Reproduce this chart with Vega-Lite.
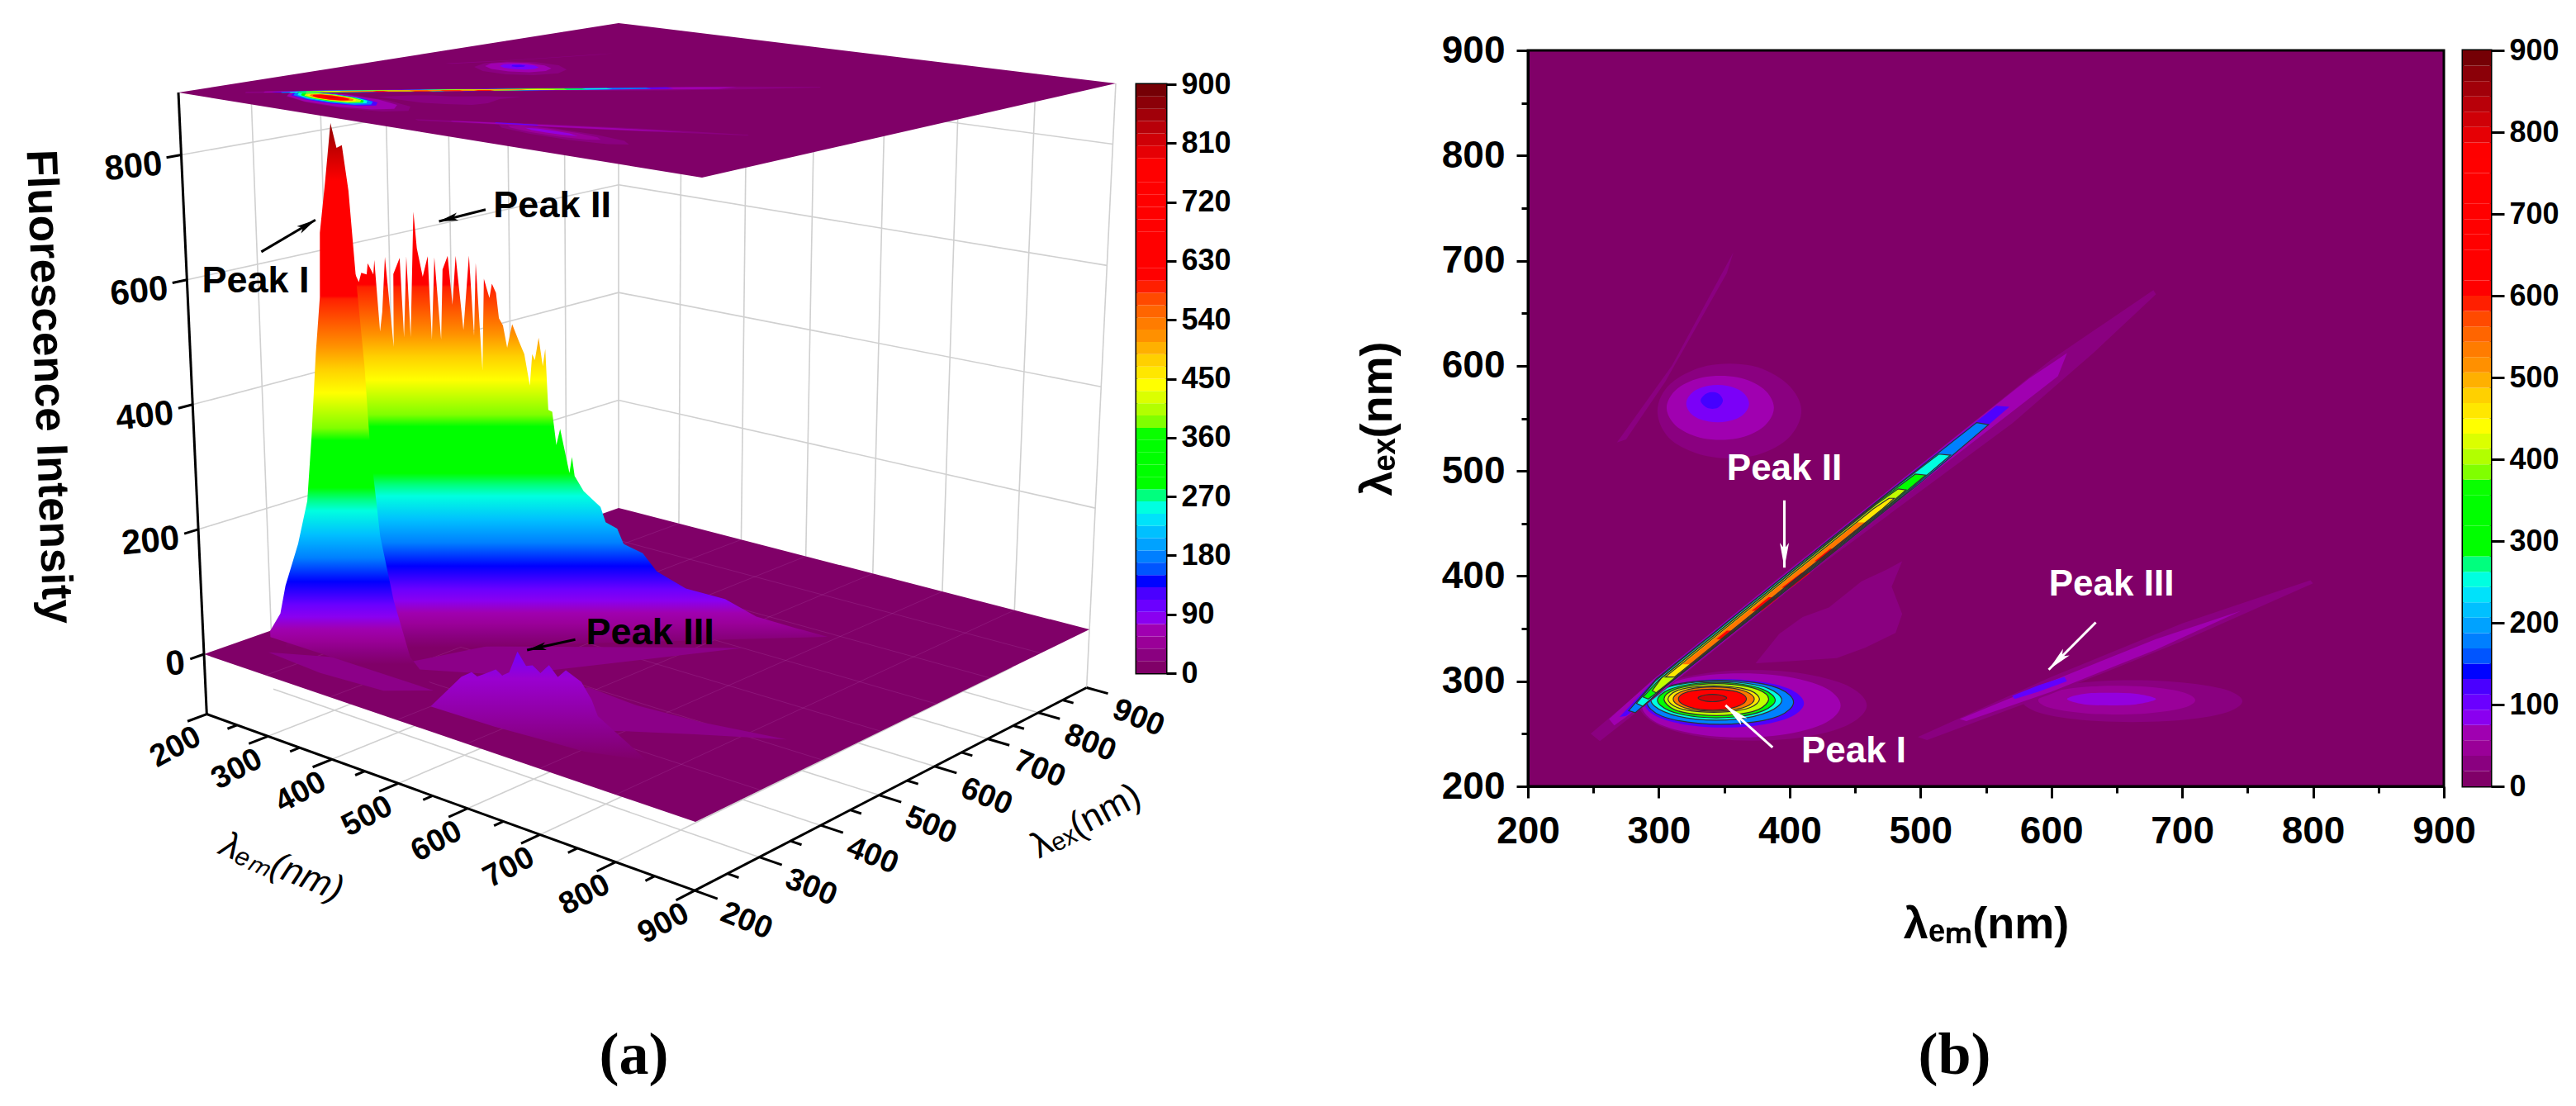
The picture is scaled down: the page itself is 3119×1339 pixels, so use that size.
{"$schema":"https://vega.github.io/schema/vega-lite/v6.json","padding":0,"spacing":0,"bounds":"flush","background":"white","config":{"view":{"stroke":null},"font":"Liberation Sans"},
"datasets":{"bars":[{"lo":0,"hi":18.75},{"lo":18.75,"hi":37.5},{"lo":37.5,"hi":56.25},{"lo":56.25,"hi":75},{"lo":75,"hi":93.75},{"lo":93.75,"hi":112.5},{"lo":112.5,"hi":131.25},{"lo":131.25,"hi":150},{"lo":150,"hi":168.75},{"lo":168.75,"hi":187.5},{"lo":187.5,"hi":206.25},{"lo":206.25,"hi":225},{"lo":225,"hi":243.75},{"lo":243.75,"hi":262.5},{"lo":262.5,"hi":281.25},{"lo":281.25,"hi":300},{"lo":300,"hi":318.75},{"lo":318.75,"hi":337.5},{"lo":337.5,"hi":356.25},{"lo":356.25,"hi":375},{"lo":375,"hi":393.75},{"lo":393.75,"hi":412.5},{"lo":412.5,"hi":431.25},{"lo":431.25,"hi":450},{"lo":450,"hi":468.75},{"lo":468.75,"hi":487.5},{"lo":487.5,"hi":506.25},{"lo":506.25,"hi":525},{"lo":525,"hi":543.75},{"lo":543.75,"hi":562.5},{"lo":562.5,"hi":581.25},{"lo":581.25,"hi":600},{"lo":600,"hi":618.75},{"lo":618.75,"hi":637.5},{"lo":637.5,"hi":656.25},{"lo":656.25,"hi":675},{"lo":675,"hi":693.75},{"lo":693.75,"hi":712.5},{"lo":712.5,"hi":731.25},{"lo":731.25,"hi":750},{"lo":750,"hi":768.75},{"lo":768.75,"hi":787.5},{"lo":787.5,"hi":806.25},{"lo":806.25,"hi":825},{"lo":825,"hi":843.75},{"lo":843.75,"hi":862.5},{"lo":862.5,"hi":881.25},{"lo":881.25,"hi":900}],
"all":[
{"k":"c","p":1,"v":19,"em":409,"ex":557},{"k":"c","p":1,"v":19,"em":398,"ex":583},{"k":"c","p":1,"v":19,"em":371,"ex":600},{"k":"c","p":1,"v":19,"em":337,"ex":600},{"k":"c","p":1,"v":19,"em":309,"ex":583},{"k":"c","p":1,"v":19,"em":299,"ex":557},{"k":"c","p":1,"v":19,"em":309,"ex":530},{"k":"c","p":1,"v":19,"em":337,"ex":514},{"k":"c","p":1,"v":19,"em":371,"ex":514},{"k":"c","p":1,"v":19,"em":398,"ex":530},
{"k":"c","p":2,"v":19,"em":268,"ex":527},{"k":"c","p":2,"v":19,"em":310,"ex":600},{"k":"c","p":2,"v":19,"em":357,"ex":708},{"k":"c","p":2,"v":19,"em":352,"ex":688},{"k":"c","p":2,"v":19,"em":305,"ex":585},{"k":"c","p":2,"v":19,"em":275,"ex":530},
{"k":"c","p":3,"v":19,"em":459,"ex":277},{"k":"c","p":3,"v":19,"em":442,"ex":297},{"k":"c","p":3,"v":19,"em":399,"ex":309},{"k":"c","p":3,"v":19,"em":345,"ex":309},{"k":"c","p":3,"v":19,"em":302,"ex":297},{"k":"c","p":3,"v":19,"em":285,"ex":277},{"k":"c","p":3,"v":19,"em":302,"ex":257},{"k":"c","p":3,"v":19,"em":345,"ex":245},{"k":"c","p":3,"v":19,"em":399,"ex":245},{"k":"c","p":3,"v":19,"em":442,"ex":257},
{"k":"c","p":4,"v":19,"em":374,"ex":317},{"k":"c","p":4,"v":19,"em":392,"ex":345},{"k":"c","p":4,"v":19,"em":410,"ex":361},{"k":"c","p":4,"v":19,"em":430,"ex":370},{"k":"c","p":4,"v":19,"em":455,"ex":395},{"k":"c","p":4,"v":19,"em":474,"ex":406},{"k":"c","p":4,"v":19,"em":486,"ex":414},{"k":"c","p":4,"v":19,"em":478,"ex":390},{"k":"c","p":4,"v":19,"em":486,"ex":364},{"k":"c","p":4,"v":19,"em":481,"ex":346},{"k":"c","p":4,"v":19,"em":458,"ex":332},{"k":"c","p":4,"v":19,"em":436,"ex":322},{"k":"c","p":4,"v":19,"em":400,"ex":319},
{"k":"c","p":5,"v":19,"em":746,"ex":281},{"k":"c","p":5,"v":19,"em":730,"ex":293},{"k":"c","p":5,"v":19,"em":688,"ex":300},{"k":"c","p":5,"v":19,"em":636,"ex":300},{"k":"c","p":5,"v":19,"em":594,"ex":293},{"k":"c","p":5,"v":19,"em":578,"ex":281},{"k":"c","p":5,"v":19,"em":594,"ex":269},{"k":"c","p":5,"v":19,"em":636,"ex":262},{"k":"c","p":5,"v":19,"em":688,"ex":262},{"k":"c","p":5,"v":19,"em":730,"ex":269},
{"k":"c","p":6,"v":19,"em":498,"ex":247},{"k":"c","p":6,"v":19,"em":600,"ex":304},{"k":"c","p":6,"v":19,"em":700,"ex":355},{"k":"c","p":6,"v":19,"em":798,"ex":396},{"k":"c","p":6,"v":19,"em":800,"ex":393},{"k":"c","p":6,"v":19,"em":700,"ex":338},{"k":"c","p":6,"v":19,"em":600,"ex":288},{"k":"c","p":6,"v":19,"em":505,"ex":244},
{"k":"c","p":7,"v":19,"em":248,"ex":250},{"k":"c","p":7,"v":19,"em":297,"ex":302},{"k":"c","p":7,"v":19,"em":394,"ex":401},{"k":"c","p":7,"v":19,"em":498,"ex":504},{"k":"c","p":7,"v":19,"em":600,"ex":606},{"k":"c","p":7,"v":19,"em":678,"ex":672},{"k":"c","p":7,"v":19,"em":680,"ex":668},{"k":"c","p":7,"v":19,"em":632,"ex":612},{"k":"c","p":7,"v":19,"em":570,"ex":545},{"k":"c","p":7,"v":19,"em":420,"ex":407},{"k":"c","p":7,"v":19,"em":303,"ex":290},{"k":"c","p":7,"v":19,"em":255,"ex":243},
{"k":"c","p":8,"v":38,"em":710,"ex":282},{"k":"c","p":8,"v":38,"em":699,"ex":290},{"k":"c","p":8,"v":38,"em":669,"ex":295},{"k":"c","p":8,"v":38,"em":631,"ex":295},{"k":"c","p":8,"v":38,"em":601,"ex":290},{"k":"c","p":8,"v":38,"em":590,"ex":282},{"k":"c","p":8,"v":38,"em":601,"ex":274},{"k":"c","p":8,"v":38,"em":631,"ex":269},{"k":"c","p":8,"v":38,"em":669,"ex":269},{"k":"c","p":8,"v":38,"em":699,"ex":274},
{"k":"c","p":9,"v":56,"em":388,"ex":560},{"k":"c","p":9,"v":56,"em":380,"ex":578},{"k":"c","p":9,"v":56,"em":360,"ex":589},{"k":"c","p":9,"v":56,"em":334,"ex":589},{"k":"c","p":9,"v":56,"em":314,"ex":578},{"k":"c","p":9,"v":56,"em":306,"ex":560},{"k":"c","p":9,"v":56,"em":314,"ex":542},{"k":"c","p":9,"v":56,"em":334,"ex":531},{"k":"c","p":9,"v":56,"em":360,"ex":531},{"k":"c","p":9,"v":56,"em":380,"ex":542},
{"k":"c","p":10,"v":56,"em":439,"ex":277},{"k":"c","p":10,"v":56,"em":425,"ex":295},{"k":"c","p":10,"v":56,"em":387,"ex":306},{"k":"c","p":10,"v":56,"em":339,"ex":306},{"k":"c","p":10,"v":56,"em":301,"ex":295},{"k":"c","p":10,"v":56,"em":287,"ex":277},{"k":"c","p":10,"v":56,"em":301,"ex":259},{"k":"c","p":10,"v":56,"em":339,"ex":248},{"k":"c","p":10,"v":56,"em":387,"ex":248},{"k":"c","p":10,"v":56,"em":425,"ex":259},
{"k":"c","p":11,"v":56,"em":262,"ex":264},{"k":"c","p":11,"v":56,"em":296,"ex":302},{"k":"c","p":11,"v":56,"em":392,"ex":398},{"k":"c","p":11,"v":56,"em":494,"ex":500},{"k":"c","p":11,"v":56,"em":583,"ex":588},{"k":"c","p":11,"v":56,"em":612,"ex":612},{"k":"c","p":11,"v":56,"em":605,"ex":590},{"k":"c","p":11,"v":56,"em":520,"ex":508},{"k":"c","p":11,"v":56,"em":412,"ex":400},{"k":"c","p":11,"v":56,"em":303,"ex":291},{"k":"c","p":11,"v":56,"em":266,"ex":258},
{"k":"c","p":12,"v":56,"em":530,"ex":264},{"k":"c","p":12,"v":56,"em":600,"ex":300},{"k":"c","p":12,"v":56,"em":680,"ex":340},{"k":"c","p":12,"v":56,"em":745,"ex":367},{"k":"c","p":12,"v":56,"em":680,"ex":330},{"k":"c","p":12,"v":56,"em":600,"ex":290},{"k":"c","p":12,"v":56,"em":535,"ex":262},
{"k":"c","p":13,"v":70,"em":680,"ex":283},{"k":"c","p":13,"v":70,"em":665,"ex":288},{"k":"c","p":13,"v":70,"em":645,"ex":289},{"k":"c","p":13,"v":70,"em":625,"ex":288},{"k":"c","p":13,"v":70,"em":612,"ex":283},{"k":"c","p":13,"v":70,"em":625,"ex":278},{"k":"c","p":13,"v":70,"em":645,"ex":277},{"k":"c","p":13,"v":70,"em":665,"ex":278},
{"k":"c","p":14,"v":85,"em":369,"ex":564},{"k":"c","p":14,"v":85,"em":364,"ex":575},{"k":"c","p":14,"v":85,"em":352,"ex":581},{"k":"c","p":14,"v":85,"em":338,"ex":581},{"k":"c","p":14,"v":85,"em":326,"ex":575},{"k":"c","p":14,"v":85,"em":321,"ex":564},{"k":"c","p":14,"v":85,"em":326,"ex":553},{"k":"c","p":14,"v":85,"em":338,"ex":547},{"k":"c","p":14,"v":85,"em":352,"ex":547},{"k":"c","p":14,"v":85,"em":364,"ex":553},
{"k":"c","p":15,"v":100,"em":570,"ex":286},{"k":"c","p":15,"v":100,"em":590,"ex":296},{"k":"c","p":15,"v":100,"em":610,"ex":304},{"k":"c","p":15,"v":100,"em":612,"ex":300},{"k":"c","p":15,"v":100,"em":590,"ex":290},{"k":"c","p":15,"v":100,"em":572,"ex":283},
{"k":"c","p":16,"v":110,"em":411,"ex":279},{"k":"c","p":16,"v":110,"em":399,"ex":293},{"k":"c","p":16,"v":110,"em":369,"ex":301},{"k":"c","p":16,"v":110,"em":331,"ex":301},{"k":"c","p":16,"v":110,"em":301,"ex":293},{"k":"c","p":16,"v":110,"em":289,"ex":279},{"k":"c","p":16,"v":110,"em":301,"ex":265},{"k":"c","p":16,"v":110,"em":331,"ex":257},{"k":"c","p":16,"v":110,"em":369,"ex":257},{"k":"c","p":16,"v":110,"em":399,"ex":265},
{"k":"c","p":17,"v":110,"em":270,"ex":266},{"k":"c","p":17,"v":110,"em":298,"ex":303},{"k":"c","p":17,"v":110,"em":393,"ex":398},{"k":"c","p":17,"v":110,"em":492,"ex":497},{"k":"c","p":17,"v":110,"em":558,"ex":562},{"k":"c","p":17,"v":110,"em":568,"ex":561},{"k":"c","p":17,"v":110,"em":511,"ex":500},{"k":"c","p":17,"v":110,"em":411,"ex":400},{"k":"c","p":17,"v":110,"em":304,"ex":293},{"k":"c","p":17,"v":110,"em":275,"ex":267},
{"k":"c","p":18,"v":115,"em":349,"ex":567},{"k":"c","p":18,"v":115,"em":345,"ex":574},{"k":"c","p":18,"v":115,"em":337,"ex":574},{"k":"c","p":18,"v":115,"em":332,"ex":567},{"k":"c","p":18,"v":115,"em":337,"ex":560},{"k":"c","p":18,"v":115,"em":345,"ex":560},
{"k":"c","p":19,"v":169,"em":403,"ex":280},{"k":"c","p":19,"v":169,"em":392,"ex":293},{"k":"c","p":19,"v":169,"em":364,"ex":300},{"k":"c","p":19,"v":169,"em":330,"ex":300},{"k":"c","p":19,"v":169,"em":302,"ex":293},{"k":"c","p":19,"v":169,"em":291,"ex":280},{"k":"c","p":19,"v":169,"em":302,"ex":267},{"k":"c","p":19,"v":169,"em":330,"ex":260},{"k":"c","p":19,"v":169,"em":364,"ex":260},{"k":"c","p":19,"v":169,"em":392,"ex":267},
{"k":"c","p":20,"v":169,"em":277,"ex":272},{"k":"c","p":20,"v":169,"em":298,"ex":302},{"k":"c","p":20,"v":169,"em":393,"ex":397},{"k":"c","p":20,"v":169,"em":486,"ex":490},{"k":"c","p":20,"v":169,"em":543,"ex":546},{"k":"c","p":20,"v":169,"em":552,"ex":544},{"k":"c","p":20,"v":169,"em":501,"ex":490},{"k":"c","p":20,"v":169,"em":410,"ex":399},{"k":"c","p":20,"v":169,"em":305,"ex":295},{"k":"c","p":20,"v":169,"em":282,"ex":270},
{"k":"c","p":21,"v":244,"em":394,"ex":282},{"k":"c","p":21,"v":244,"em":384,"ex":293},{"k":"c","p":21,"v":244,"em":360,"ex":299},{"k":"c","p":21,"v":244,"em":328,"ex":299},{"k":"c","p":21,"v":244,"em":304,"ex":293},{"k":"c","p":21,"v":244,"em":294,"ex":282},{"k":"c","p":21,"v":244,"em":304,"ex":271},{"k":"c","p":21,"v":244,"em":328,"ex":264},{"k":"c","p":21,"v":244,"em":360,"ex":264},{"k":"c","p":21,"v":244,"em":384,"ex":271},
{"k":"c","p":22,"v":244,"em":283,"ex":279},{"k":"c","p":22,"v":244,"em":298,"ex":301},{"k":"c","p":22,"v":244,"em":392,"ex":396},{"k":"c","p":22,"v":244,"em":472,"ex":476},{"k":"c","p":22,"v":244,"em":514,"ex":516},{"k":"c","p":22,"v":244,"em":523,"ex":515},{"k":"c","p":22,"v":244,"em":487,"ex":477},{"k":"c","p":22,"v":244,"em":409,"ex":399},{"k":"c","p":22,"v":244,"em":306,"ex":296},{"k":"c","p":22,"v":244,"em":288,"ex":276},
{"k":"c","p":23,"v":320,"em":389,"ex":282},{"k":"c","p":23,"v":320,"em":380,"ex":292},{"k":"c","p":23,"v":320,"em":358,"ex":298},{"k":"c","p":23,"v":320,"em":330,"ex":298},{"k":"c","p":23,"v":320,"em":308,"ex":292},{"k":"c","p":23,"v":320,"em":299,"ex":282},{"k":"c","p":23,"v":320,"em":308,"ex":272},{"k":"c","p":23,"v":320,"em":330,"ex":266},{"k":"c","p":23,"v":320,"em":358,"ex":266},{"k":"c","p":23,"v":320,"em":380,"ex":272},
{"k":"c","p":24,"v":320,"em":288,"ex":285},{"k":"c","p":24,"v":320,"em":300,"ex":301},{"k":"c","p":24,"v":320,"em":395,"ex":397},{"k":"c","p":24,"v":320,"em":468,"ex":471},{"k":"c","p":24,"v":320,"em":496,"ex":497},{"k":"c","p":24,"v":320,"em":504,"ex":496},{"k":"c","p":24,"v":320,"em":480,"ex":471},{"k":"c","p":24,"v":320,"em":408,"ex":399},{"k":"c","p":24,"v":320,"em":308,"ex":298},{"k":"c","p":24,"v":320,"em":292,"ex":283},
{"k":"c","p":25,"v":400,"em":384,"ex":283},{"k":"c","p":25,"v":400,"em":376,"ex":292},{"k":"c","p":25,"v":400,"em":356,"ex":297},{"k":"c","p":25,"v":400,"em":332,"ex":297},{"k":"c","p":25,"v":400,"em":312,"ex":292},{"k":"c","p":25,"v":400,"em":304,"ex":283},{"k":"c","p":25,"v":400,"em":312,"ex":273},{"k":"c","p":25,"v":400,"em":332,"ex":268},{"k":"c","p":25,"v":400,"em":356,"ex":268},{"k":"c","p":25,"v":400,"em":376,"ex":273},
{"k":"c","p":26,"v":400,"em":295,"ex":291},{"k":"c","p":26,"v":400,"em":302,"ex":303},{"k":"c","p":26,"v":400,"em":396,"ex":398},{"k":"c","p":26,"v":400,"em":466,"ex":468},{"k":"c","p":26,"v":400,"em":483,"ex":483},{"k":"c","p":26,"v":400,"em":489,"ex":482},{"k":"c","p":26,"v":400,"em":476,"ex":468},{"k":"c","p":26,"v":400,"em":406,"ex":398},{"k":"c","p":26,"v":400,"em":312,"ex":303},{"k":"c","p":26,"v":400,"em":298,"ex":289},
{"k":"c","p":27,"v":450,"em":377,"ex":283},{"k":"c","p":27,"v":450,"em":370,"ex":291},{"k":"c","p":27,"v":450,"em":353,"ex":295},{"k":"c","p":27,"v":450,"em":331,"ex":295},{"k":"c","p":27,"v":450,"em":314,"ex":291},{"k":"c","p":27,"v":450,"em":307,"ex":283},{"k":"c","p":27,"v":450,"em":314,"ex":275},{"k":"c","p":27,"v":450,"em":331,"ex":271},{"k":"c","p":27,"v":450,"em":353,"ex":271},{"k":"c","p":27,"v":450,"em":370,"ex":275},
{"k":"c","p":28,"v":450,"em":305,"ex":304},{"k":"c","p":28,"v":450,"em":400,"ex":400},{"k":"c","p":28,"v":450,"em":464,"ex":464},{"k":"c","p":28,"v":450,"em":476,"ex":474},{"k":"c","p":28,"v":450,"em":480,"ex":474},{"k":"c","p":28,"v":450,"em":471,"ex":464},{"k":"c","p":28,"v":450,"em":407,"ex":400},{"k":"c","p":28,"v":450,"em":312,"ex":304},
{"k":"c","p":29,"v":530,"em":373,"ex":283},{"k":"c","p":29,"v":530,"em":367,"ex":290},{"k":"c","p":29,"v":530,"em":352,"ex":294},{"k":"c","p":29,"v":530,"em":332,"ex":294},{"k":"c","p":29,"v":530,"em":317,"ex":290},{"k":"c","p":29,"v":530,"em":311,"ex":283},{"k":"c","p":29,"v":530,"em":317,"ex":276},{"k":"c","p":29,"v":530,"em":332,"ex":272},{"k":"c","p":29,"v":530,"em":352,"ex":272},{"k":"c","p":29,"v":530,"em":367,"ex":276},
{"k":"c","p":30,"v":530,"em":318,"ex":316},{"k":"c","p":30,"v":530,"em":402,"ex":401},{"k":"c","p":30,"v":530,"em":452,"ex":451},{"k":"c","p":30,"v":530,"em":460,"ex":451},{"k":"c","p":30,"v":530,"em":408,"ex":399},{"k":"c","p":30,"v":530,"em":325,"ex":316},
{"k":"c","p":31,"v":600,"em":367,"ex":283},{"k":"c","p":31,"v":600,"em":362,"ex":289},{"k":"c","p":31,"v":600,"em":349,"ex":292},{"k":"c","p":31,"v":600,"em":333,"ex":292},{"k":"c","p":31,"v":600,"em":320,"ex":289},{"k":"c","p":31,"v":600,"em":315,"ex":283},{"k":"c","p":31,"v":600,"em":320,"ex":277},{"k":"c","p":31,"v":600,"em":333,"ex":273},{"k":"c","p":31,"v":600,"em":349,"ex":273},{"k":"c","p":31,"v":600,"em":362,"ex":277},
{"k":"c","p":32,"v":600,"em":344,"ex":340},{"k":"c","p":32,"v":600,"em":352,"ex":348},{"k":"c","p":32,"v":600,"em":359,"ex":348},{"k":"c","p":32,"v":600,"em":351,"ex":340},
{"k":"c","p":33,"v":600,"em":371,"ex":367},{"k":"c","p":33,"v":600,"em":384,"ex":380},{"k":"c","p":33,"v":600,"em":392,"ex":380},{"k":"c","p":33,"v":600,"em":379,"ex":367},
{"k":"c","p":34,"v":600,"em":394,"ex":389},{"k":"c","p":34,"v":600,"em":409,"ex":403},{"k":"c","p":34,"v":600,"em":416,"ex":403},{"k":"c","p":34,"v":600,"em":401,"ex":389},
{"k":"c","p":35,"v":600,"em":419,"ex":414},{"k":"c","p":35,"v":600,"em":431,"ex":426},{"k":"c","p":35,"v":600,"em":437,"ex":426},{"k":"c","p":35,"v":600,"em":425,"ex":414},
{"k":"c","p":36,"v":800,"em":352,"ex":284},{"k":"c","p":36,"v":800,"em":346,"ex":287},{"k":"c","p":36,"v":800,"em":336,"ex":287},{"k":"c","p":36,"v":800,"em":330,"ex":284},{"k":"c","p":36,"v":800,"em":336,"ex":281},{"k":"c","p":36,"v":800,"em":346,"ex":281},

{"k":"f","em":200,"ex":200,"z":0},{"k":"f","em":900,"ex":200,"z":0},{"k":"f","em":900,"ex":900,"z":0},{"k":"f","em":200,"ex":900,"z":0},
{"k":"t","em":200,"ex":200,"z":900},{"k":"t","em":900,"ex":200,"z":900},{"k":"t","em":900,"ex":900,"z":900},{"k":"t","em":200,"ex":900,"z":900},

{"k":"g","g":1,"em":200,"ex":300,"z":0},{"k":"g","g":1,"em":200,"ex":300,"z":900},{"k":"g","g":2,"em":200,"ex":400,"z":0},{"k":"g","g":2,"em":200,"ex":400,"z":900},{"k":"g","g":3,"em":200,"ex":500,"z":0},{"k":"g","g":3,"em":200,"ex":500,"z":900},{"k":"g","g":4,"em":200,"ex":600,"z":0},{"k":"g","g":4,"em":200,"ex":600,"z":900},{"k":"g","g":5,"em":200,"ex":700,"z":0},{"k":"g","g":5,"em":200,"ex":700,"z":900},{"k":"g","g":6,"em":200,"ex":800,"z":0},{"k":"g","g":6,"em":200,"ex":800,"z":900},{"k":"g","g":7,"em":200,"ex":900,"z":0},{"k":"g","g":7,"em":200,"ex":900,"z":900},
{"k":"g","g":8,"em":200,"ex":200,"z":200},{"k":"g","g":8,"em":200,"ex":900,"z":200},{"k":"g","g":9,"em":200,"ex":200,"z":400},{"k":"g","g":9,"em":200,"ex":900,"z":400},{"k":"g","g":10,"em":200,"ex":200,"z":600},{"k":"g","g":10,"em":200,"ex":900,"z":600},{"k":"g","g":11,"em":200,"ex":200,"z":800},{"k":"g","g":11,"em":200,"ex":900,"z":800},
{"k":"g","g":12,"em":300,"ex":900,"z":0},{"k":"g","g":12,"em":300,"ex":900,"z":900},{"k":"g","g":13,"em":400,"ex":900,"z":0},{"k":"g","g":13,"em":400,"ex":900,"z":900},{"k":"g","g":14,"em":500,"ex":900,"z":0},{"k":"g","g":14,"em":500,"ex":900,"z":900},{"k":"g","g":15,"em":600,"ex":900,"z":0},{"k":"g","g":15,"em":600,"ex":900,"z":900},{"k":"g","g":16,"em":700,"ex":900,"z":0},{"k":"g","g":16,"em":700,"ex":900,"z":900},{"k":"g","g":17,"em":800,"ex":900,"z":0},{"k":"g","g":17,"em":800,"ex":900,"z":900},{"k":"g","g":18,"em":900,"ex":900,"z":-96},{"k":"g","g":18,"em":900,"ex":900,"z":900},
{"k":"g","g":19,"em":200,"ex":900,"z":200},{"k":"g","g":19,"em":900,"ex":900,"z":200},{"k":"g","g":20,"em":200,"ex":900,"z":400},{"k":"g","g":20,"em":900,"ex":900,"z":400},{"k":"g","g":21,"em":200,"ex":900,"z":600},{"k":"g","g":21,"em":900,"ex":900,"z":600},{"k":"g","g":22,"em":200,"ex":900,"z":800},{"k":"g","g":22,"em":900,"ex":900,"z":800},
{"k":"g","g":23,"em":300,"ex":200,"z":-96},{"k":"g","g":23,"em":300,"ex":900,"z":-96},{"k":"g","g":24,"em":400,"ex":200,"z":-96},{"k":"g","g":24,"em":400,"ex":900,"z":-96},{"k":"g","g":25,"em":500,"ex":200,"z":-96},{"k":"g","g":25,"em":500,"ex":900,"z":-96},{"k":"g","g":26,"em":600,"ex":200,"z":-96},{"k":"g","g":26,"em":600,"ex":900,"z":-96},{"k":"g","g":27,"em":700,"ex":200,"z":-96},{"k":"g","g":27,"em":700,"ex":900,"z":-96},{"k":"g","g":28,"em":800,"ex":200,"z":-96},{"k":"g","g":28,"em":800,"ex":900,"z":-96},
{"k":"g","g":29,"em":200,"ex":300,"z":-96},{"k":"g","g":29,"em":900,"ex":300,"z":-96},{"k":"g","g":30,"em":200,"ex":400,"z":-96},{"k":"g","g":30,"em":900,"ex":400,"z":-96},{"k":"g","g":31,"em":200,"ex":500,"z":-96},{"k":"g","g":31,"em":900,"ex":500,"z":-96},{"k":"g","g":32,"em":200,"ex":600,"z":-96},{"k":"g","g":32,"em":900,"ex":600,"z":-96},{"k":"g","g":33,"em":200,"ex":700,"z":-96},{"k":"g","g":33,"em":900,"ex":700,"z":-96},{"k":"g","g":34,"em":200,"ex":800,"z":-96},{"k":"g","g":34,"em":900,"ex":800,"z":-96},

{"k":"m","g":1,"em":300,"ex":200,"z":0},{"k":"m","g":1,"em":300,"ex":900,"z":0},{"k":"m","g":2,"em":400,"ex":200,"z":0},{"k":"m","g":2,"em":400,"ex":900,"z":0},{"k":"m","g":3,"em":500,"ex":200,"z":0},{"k":"m","g":3,"em":500,"ex":900,"z":0},{"k":"m","g":4,"em":600,"ex":200,"z":0},{"k":"m","g":4,"em":600,"ex":900,"z":0},{"k":"m","g":5,"em":700,"ex":200,"z":0},{"k":"m","g":5,"em":700,"ex":900,"z":0},{"k":"m","g":6,"em":800,"ex":200,"z":0},{"k":"m","g":6,"em":800,"ex":900,"z":0},
{"k":"m","g":7,"em":200,"ex":300,"z":0},{"k":"m","g":7,"em":900,"ex":300,"z":0},{"k":"m","g":8,"em":200,"ex":400,"z":0},{"k":"m","g":8,"em":900,"ex":400,"z":0},{"k":"m","g":9,"em":200,"ex":500,"z":0},{"k":"m","g":9,"em":900,"ex":500,"z":0},{"k":"m","g":10,"em":200,"ex":600,"z":0},{"k":"m","g":10,"em":900,"ex":600,"z":0},{"k":"m","g":11,"em":200,"ex":700,"z":0},{"k":"m","g":11,"em":900,"ex":700,"z":0},{"k":"m","g":12,"em":200,"ex":800,"z":0},{"k":"m","g":12,"em":900,"ex":800,"z":0},

{"k":"lump","g":1,"em":380,"ex":300,"z":0},{"k":"lump","g":1,"em":500,"ex":370,"z":0},{"k":"lump","g":1,"em":640,"ex":600,"z":0},{"k":"lump","g":1,"em":420,"ex":420,"z":0},
{"k":"lump","g":2,"em":250,"ex":250,"z":0},{"k":"lump","g":2,"em":340,"ex":243,"z":0},{"k":"lump","g":2,"em":430,"ex":250,"z":0},{"k":"lump","g":2,"em":470,"ex":285,"z":0},{"k":"lump","g":2,"em":340,"ex":300,"z":0},
{"k":"lump","g":3,"em":640,"ex":310,"z":50},{"k":"lump","g":3,"em":660,"ex":320,"z":56},{"k":"lump","g":3,"em":700,"ex":350,"z":30},{"k":"lump","g":3,"em":760,"ex":380,"z":14},{"k":"lump","g":3,"em":840,"ex":420,"z":0},{"k":"lump","g":3,"em":760,"ex":370,"z":0},{"k":"lump","g":3,"em":700,"ex":330,"z":0},{"k":"lump","g":3,"em":660,"ex":300,"z":0},

{"k":"p2","em":262,"ex":262,"z":0},{"k":"p2","em":280,"ex":280,"z":100},{"k":"p2","em":300,"ex":300,"z":400},{"k":"p2","em":318,"ex":318,"z":563},{"k":"p2","em":324,"ex":324,"z":574},{"k":"p2","em":325,"ex":325,"z":607},{"k":"p2","em":328,"ex":328,"z":592},{"k":"p2","em":330,"ex":330,"z":607},{"k":"p2","em":334,"ex":334,"z":604},{"k":"p2","em":335,"ex":335,"z":622},{"k":"p2","em":339,"ex":339,"z":604},{"k":"p2","em":340,"ex":340,"z":627},{"k":"p2","em":343,"ex":343,"z":512},{"k":"p2","em":345,"ex":345,"z":543},{"k":"p2","em":348,"ex":348,"z":632},{"k":"p2","em":353,"ex":353,"z":487},{"k":"p2","em":354,"ex":354,"z":604},{"k":"p2","em":359,"ex":359,"z":630},{"k":"p2","em":361,"ex":361,"z":502},{"k":"p2","em":364,"ex":364,"z":632},{"k":"p2","em":366,"ex":366,"z":502},{"k":"p2","em":370,"ex":370,"z":704},{"k":"p2","em":372,"ex":372,"z":645},{"k":"p2","em":376,"ex":376,"z":599},{"k":"p2","em":380,"ex":380,"z":632},{"k":"p2","em":382,"ex":382,"z":497},{"k":"p2","em":385,"ex":385,"z":630},{"k":"p2","em":389,"ex":389,"z":497},{"k":"p2","em":391,"ex":391,"z":610},{"k":"p2","em":395,"ex":395,"z":632},{"k":"p2","em":398,"ex":398,"z":553},{"k":"p2","em":401,"ex":401,"z":632},{"k":"p2","em":406,"ex":406,"z":512},{"k":"p2","em":411,"ex":411,"z":632},{"k":"p2","em":414,"ex":414,"z":502},{"k":"p2","em":416,"ex":416,"z":620},{"k":"p2","em":420,"ex":420,"z":446},{"k":"p2","em":422,"ex":422,"z":594},{"k":"p2","em":426,"ex":426,"z":563},{"k":"p2","em":428,"ex":428,"z":586},{"k":"p2","em":431,"ex":431,"z":571},{"k":"p2","em":433,"ex":433,"z":530},{"k":"p2","em":436,"ex":436,"z":518},{"k":"p2","em":439,"ex":439,"z":482},{"k":"p2","em":443,"ex":443,"z":520},{"k":"p2","em":448,"ex":448,"z":492},{"k":"p2","em":452,"ex":452,"z":471},{"k":"p2","em":456,"ex":456,"z":420},{"k":"p2","em":458,"ex":458,"z":471},{"k":"p2","em":460,"ex":460,"z":461},{"k":"p2","em":463,"ex":463,"z":497},{"k":"p2","em":466,"ex":466,"z":451},{"k":"p2","em":468,"ex":468,"z":479},{"k":"p2","em":470,"ex":470,"z":380},{"k":"p2","em":473,"ex":473,"z":377},{"k":"p2","em":476,"ex":476,"z":323},{"k":"p2","em":479,"ex":479,"z":349},{"k":"p2","em":486,"ex":486,"z":277},{"k":"p2","em":488,"ex":488,"z":303},{"k":"p2","em":490,"ex":490,"z":272},{"k":"p2","em":497,"ex":497,"z":247},{"k":"p2","em":510,"ex":510,"z":221},{"k":"p2","em":514,"ex":514,"z":196},{"k":"p2","em":523,"ex":523,"z":185},{"k":"p2","em":528,"ex":528,"z":160},{"k":"p2","em":543,"ex":543,"z":144},{"k":"p2","em":554,"ex":554,"z":114},{"k":"p2","em":577,"ex":577,"z":85},{"k":"p2","em":608,"ex":608,"z":66},{"k":"p2","em":633,"ex":633,"z":36},{"k":"p2","em":664,"ex":664,"z":16},{"k":"p2","em":690,"ex":690,"z":0},

{"k":"p1","em":215,"ex":285,"z":10},{"k":"p1","em":233,"ex":285,"z":44},{"k":"p1","em":243,"ex":285,"z":92},{"k":"p1","em":266,"ex":285,"z":167},{"k":"p1","em":283,"ex":285,"z":241},{"k":"p1","em":293,"ex":285,"z":346},{"k":"p1","em":304,"ex":285,"z":484},{"k":"p1","em":313,"ex":285,"z":576},{"k":"p1","em":316,"ex":285,"z":679},{"k":"p1","em":326,"ex":285,"z":760},{"k":"p1","em":337,"ex":285,"z":858},{"k":"p1","em":345,"ex":285,"z":820},{"k":"p1","em":353,"ex":285,"z":826},{"k":"p1","em":361,"ex":285,"z":755},{"k":"p1","em":369,"ex":285,"z":611},{"k":"p1","em":378,"ex":285,"z":480},{"k":"p1","em":383,"ex":285,"z":356},{"k":"p1","em":395,"ex":285,"z":217},{"k":"p1","em":413,"ex":285,"z":122},{"k":"p1","em":436,"ex":285,"z":41},{"k":"p1","em":467,"ex":285,"z":8},{"k":"p1","em":467,"ex":285,"z":0},{"k":"p1","em":215,"ex":285,"z":0},

{"k":"p3","em":500,"ex":250,"z":0},{"k":"p3","em":507,"ex":290,"z":32},{"k":"p3","em":522,"ex":290,"z":44},{"k":"p3","em":530,"ex":290,"z":40},{"k":"p3","em":541,"ex":290,"z":48},{"k":"p3","em":557,"ex":290,"z":60},{"k":"p3","em":566,"ex":290,"z":54},{"k":"p3","em":576,"ex":290,"z":62},{"k":"p3","em":588,"ex":290,"z":98},{"k":"p3","em":600,"ex":290,"z":80},{"k":"p3","em":609,"ex":290,"z":84},{"k":"p3","em":620,"ex":290,"z":76},{"k":"p3","em":632,"ex":290,"z":92},{"k":"p3","em":644,"ex":290,"z":78},{"k":"p3","em":655,"ex":290,"z":92},{"k":"p3","em":676,"ex":290,"z":82},{"k":"p3","em":690,"ex":290,"z":60},{"k":"p3","em":700,"ex":288,"z":40},{"k":"p3","em":768,"ex":285,"z":0},{"k":"p3","em":705,"ex":262,"z":0},{"k":"p3","em":650,"ex":258,"z":0},{"k":"p3","em":590,"ex":252,"z":0},

{"k":"x","g":1,"em":200,"ex":200,"z":900},{"k":"x","g":1,"em":200,"ex":200,"z":-96},{"k":"x","g":2,"em":200,"ex":200,"z":-96},{"k":"x","g":2,"em":900,"ex":200,"z":-96},{"k":"x","g":3,"em":900,"ex":200,"z":-96},{"k":"x","g":3,"em":900,"ex":900,"z":-96},
{"k":"x","g":4,"em":200,"ex":200,"z":-96},{"k":"x","g":4,"em":200,"ex":172,"z":-96},{"k":"x","g":5,"em":250,"ex":200,"z":-96},{"k":"x","g":5,"em":250,"ex":186,"z":-96},{"k":"x","g":6,"em":300,"ex":200,"z":-96},{"k":"x","g":6,"em":300,"ex":172,"z":-96},{"k":"x","g":7,"em":350,"ex":200,"z":-96},{"k":"x","g":7,"em":350,"ex":186,"z":-96},{"k":"x","g":8,"em":400,"ex":200,"z":-96},{"k":"x","g":8,"em":400,"ex":172,"z":-96},{"k":"x","g":9,"em":450,"ex":200,"z":-96},{"k":"x","g":9,"em":450,"ex":186,"z":-96},{"k":"x","g":10,"em":500,"ex":200,"z":-96},{"k":"x","g":10,"em":500,"ex":172,"z":-96},{"k":"x","g":11,"em":550,"ex":200,"z":-96},{"k":"x","g":11,"em":550,"ex":186,"z":-96},{"k":"x","g":12,"em":600,"ex":200,"z":-96},{"k":"x","g":12,"em":600,"ex":172,"z":-96},{"k":"x","g":13,"em":650,"ex":200,"z":-96},{"k":"x","g":13,"em":650,"ex":186,"z":-96},{"k":"x","g":14,"em":700,"ex":200,"z":-96},{"k":"x","g":14,"em":700,"ex":172,"z":-96},{"k":"x","g":15,"em":750,"ex":200,"z":-96},{"k":"x","g":15,"em":750,"ex":186,"z":-96},{"k":"x","g":16,"em":800,"ex":200,"z":-96},{"k":"x","g":16,"em":800,"ex":172,"z":-96},{"k":"x","g":17,"em":850,"ex":200,"z":-96},{"k":"x","g":17,"em":850,"ex":186,"z":-96},{"k":"x","g":18,"em":900,"ex":200,"z":-96},{"k":"x","g":18,"em":900,"ex":172,"z":-96},
{"k":"x","g":19,"em":900,"ex":200,"z":-96},{"k":"x","g":19,"em":928,"ex":200,"z":-96},{"k":"x","g":20,"em":900,"ex":250,"z":-96},{"k":"x","g":20,"em":914,"ex":250,"z":-96},{"k":"x","g":21,"em":900,"ex":300,"z":-96},{"k":"x","g":21,"em":928,"ex":300,"z":-96},{"k":"x","g":22,"em":900,"ex":350,"z":-96},{"k":"x","g":22,"em":914,"ex":350,"z":-96},{"k":"x","g":23,"em":900,"ex":400,"z":-96},{"k":"x","g":23,"em":928,"ex":400,"z":-96},{"k":"x","g":24,"em":900,"ex":450,"z":-96},{"k":"x","g":24,"em":914,"ex":450,"z":-96},{"k":"x","g":25,"em":900,"ex":500,"z":-96},{"k":"x","g":25,"em":928,"ex":500,"z":-96},{"k":"x","g":26,"em":900,"ex":550,"z":-96},{"k":"x","g":26,"em":914,"ex":550,"z":-96},{"k":"x","g":27,"em":900,"ex":600,"z":-96},{"k":"x","g":27,"em":928,"ex":600,"z":-96},{"k":"x","g":28,"em":900,"ex":650,"z":-96},{"k":"x","g":28,"em":914,"ex":650,"z":-96},{"k":"x","g":29,"em":900,"ex":700,"z":-96},{"k":"x","g":29,"em":928,"ex":700,"z":-96},{"k":"x","g":30,"em":900,"ex":750,"z":-96},{"k":"x","g":30,"em":914,"ex":750,"z":-96},{"k":"x","g":31,"em":900,"ex":800,"z":-96},{"k":"x","g":31,"em":928,"ex":800,"z":-96},{"k":"x","g":32,"em":900,"ex":850,"z":-96},{"k":"x","g":32,"em":914,"ex":850,"z":-96},{"k":"x","g":33,"em":900,"ex":900,"z":-96},{"k":"x","g":33,"em":928,"ex":900,"z":-96},
{"k":"x","g":34,"em":200,"ex":200,"z":0},{"k":"x","g":34,"em":200,"ex":180,"z":0},{"k":"x","g":35,"em":200,"ex":200,"z":200},{"k":"x","g":35,"em":200,"ex":180,"z":200},{"k":"x","g":36,"em":200,"ex":200,"z":400},{"k":"x","g":36,"em":200,"ex":180,"z":400},{"k":"x","g":37,"em":200,"ex":200,"z":600},{"k":"x","g":37,"em":200,"ex":180,"z":600},{"k":"x","g":38,"em":200,"ex":200,"z":800},{"k":"x","g":38,"em":200,"ex":180,"z":800},

{"k":"le","em":200,"ex":200,"z":-96,"t":"200"},{"k":"le","em":300,"ex":200,"z":-96,"t":"300"},{"k":"le","em":400,"ex":200,"z":-96,"t":"400"},{"k":"le","em":500,"ex":200,"z":-96,"t":"500"},{"k":"le","em":600,"ex":200,"z":-96,"t":"600"},{"k":"le","em":700,"ex":200,"z":-96,"t":"700"},{"k":"le","em":800,"ex":200,"z":-96,"t":"800"},{"k":"le","em":900,"ex":200,"z":-96,"t":"900"},
{"k":"lx","em":900,"ex":200,"z":-96,"t":"200"},{"k":"lx","em":900,"ex":300,"z":-96,"t":"300"},{"k":"lx","em":900,"ex":400,"z":-96,"t":"400"},{"k":"lx","em":900,"ex":500,"z":-96,"t":"500"},{"k":"lx","em":900,"ex":600,"z":-96,"t":"600"},{"k":"lx","em":900,"ex":700,"z":-96,"t":"700"},{"k":"lx","em":900,"ex":800,"z":-96,"t":"800"},{"k":"lx","em":900,"ex":900,"z":-96,"t":"900"},
{"k":"lz","em":200,"ex":200,"z":0,"t":"0"},{"k":"lz","em":200,"ex":200,"z":200,"t":"200"},{"k":"lz","em":200,"ex":200,"z":400,"t":"400"},{"k":"lz","em":200,"ex":200,"z":600,"t":"600"},{"k":"lz","em":200,"ex":200,"z":800,"t":"800"},
{"k":"tz","em":200,"ex":11,"z":484,"t":"Fluorescence Intensity"},{"k":"te","em":254,"ex":254,"z":-346,"t":"λₑₘ(nm)"},{"k":"tx","em":905,"ex":905,"z":-317,"t":"λₑₓ(nm)"},{"k":"cap","em":537,"ex":537,"z":-672,"t":"(a)"},
{"k":"lp","em":251,"ex":251,"z":597,"t":"Peak I"},{"k":"lp","em":474,"ex":474,"z":711,"t":"Peak II"},{"k":"lp","em":549,"ex":549,"z":15,"t":"Peak III"},
{"k":"la","g":1,"em":256,"ex":256,"z":643},{"k":"la","g":1,"em":297,"ex":297,"z":693},{"k":"la","g":2,"em":424,"ex":424,"z":706},{"k":"la","g":2,"em":389,"ex":389,"z":688},{"k":"la","g":3,"em":490,"ex":490,"z":7},{"k":"la","g":3,"em":452,"ex":452,"z":-8},
{"k":"lh","g":1,"em":297,"ex":297,"z":693},{"k":"lh","g":2,"em":389,"ex":389,"z":688},{"k":"lh","g":3,"em":452,"ex":452,"z":-8},

{"k":"rp","em":449,"ex":233,"t":"Peak I"},{"k":"rp","em":396,"ex":502,"t":"Peak II"},{"k":"rp","em":646,"ex":392,"t":"Peak III"},
{"k":"ra","g":1,"em":387,"ex":237},{"k":"ra","g":1,"em":351,"ex":277},{"k":"ra","g":2,"em":396,"ex":472},{"k":"ra","g":2,"em":396,"ex":408},{"k":"ra","g":3,"em":634,"ex":356},{"k":"ra","g":3,"em":598,"ex":311},
{"k":"rh","g":1,"em":351,"ex":277},{"k":"rh","g":2,"em":396,"ex":408},{"k":"rh","g":3,"em":598,"ex":311},
{"k":"capb","em":526,"ex":-56,"t":"(b)"}
]},
"hconcat":[
{"width":1376,"height":1339,"data":{"name":"all"},
"transform":[{"calculate":"(datum.em-200)/700","as":"u"},{"calculate":"(datum.ex-200)/700","as":"w"},{"calculate":"isValid(datum.z)?datum.z/900:1","as":"h"},
{"calculate":"(1-datum.h)*(477.8*datum.u+622.1*datum.w+247)/(1-0.1392*datum.u+0.1603*datum.w)+datum.h*(506.9*datum.u+665.9*datum.w+216)/(1-0.1495*datum.u+0.1775*datum.w)","as":"sx"},
{"calculate":"(1-datum.h)*(64.5*datum.u-78.4*datum.w+792)/(1-0.1392*datum.u+0.1603*datum.w)+datum.h*(70.9*datum.u-79*datum.w+112)/(1-0.1495*datum.u+0.1775*datum.w)","as":"sy"}],
"encoding":{"x":{"field":"sx","type":"quantitative","scale":{"domain":[0,1376],"nice":false,"zero":false},"axis":null},"y":{"field":"sy","type":"quantitative","scale":{"domain":[1339,0],"nice":false,"zero":false},"axis":null}},
"layer":[
{"transform":[{"filter":"datum.k=='g'"}],"mark":{"type":"line","stroke":"#d0d0d0","strokeWidth":1.6},"encoding":{"detail":{"field":"g"},"order":{"value":null}}},
{"transform":[{"filter":"datum.k=='f'"}],"mark":{"type":"line","interpolate":"linear-closed","fill":"#800068","stroke":null},"encoding":{"order":{"value":null}}},
{"transform":[{"filter":"datum.k=='m'"}],"mark":{"type":"line","stroke":"#c070c0","strokeWidth":1,"opacity":0.18},"encoding":{"detail":{"field":"g"},"order":{"value":null}}},
{"transform":[{"filter":"datum.k=='t'"}],"mark":{"type":"line","interpolate":"linear-closed","fill":"#800068","stroke":null},"encoding":{"order":{"value":null}}},
{"transform":[{"filter":"datum.k=='c'"}],"mark":{"type":"line","interpolate":"linear-closed","stroke":null},"encoding":{"detail":{"field":"p"},"order":{"value":null},"fill":{"field":"v","type":"quantitative","legend":null,"scale":{"domain":[0,19,38,56,75,94,131,169,206,244,262,281,356,375,431,469,506,581,585,768,900],"range":["#800068","#8a0080","#9a0099","#a000b0","#8a00f0","#6a00ff","#0000ff","#0080ff","#00c0ff","#00ffe0","#00ff80","#00ff00","#00ff00","#80ff00","#ffff00","#ffd000","#ff9000","#ff2000","#ff0000","#ff0000","#600000"]}}}},
{"transform":[{"filter":"datum.k=='lump'"}],"mark":{"type":"line","interpolate":"linear-closed","fill":"#8c0088","stroke":null},"encoding":{"detail":{"field":"g"},"order":{"value":null}}},
{"transform":[{"filter":"datum.k=='p2'"}],"mark":{"type":"line","interpolate":"linear-closed","stroke":null,"fill":{"gradient":"linear","x1":0,"y1":0,"x2":0,"y2":1,"stops":[{"offset":0,"color":"#ff0000"},{"offset":0.165,"color":"#ff0000"},{"offset":0.171,"color":"#ff2000"},{"offset":0.277,"color":"#ff9000"},{"offset":0.329,"color":"#ffd000"},{"offset":0.382,"color":"#ffff00"},{"offset":0.461,"color":"#80ff00"},{"offset":0.488,"color":"#00ff00"},{"offset":0.594,"color":"#00ff00"},{"offset":0.621,"color":"#00ff80"},{"offset":0.646,"color":"#00ffe0"},{"offset":0.7,"color":"#00c0ff"},{"offset":0.752,"color":"#0080ff"},{"offset":0.805,"color":"#0000ff"},{"offset":0.857,"color":"#6a00ff"},{"offset":0.884,"color":"#8a00f0"},{"offset":0.911,"color":"#a000b0"},{"offset":0.936,"color":"#9a0099"},{"offset":0.963,"color":"#8a0080"},{"offset":0.99,"color":"#800068"},{"offset":1,"color":"#800068"}]}},"encoding":{"order":{"value":null}}},
{"transform":[{"filter":"datum.k=='p3'"}],"mark":{"type":"line","interpolate":"linear-closed","stroke":null,"fill":{"gradient":"linear","x1":0,"y1":0,"x2":0,"y2":1,"stops":[{"offset":0,"color":"#7000ff"},{"offset":0.25,"color":"#9a00d0"},{"offset":0.6,"color":"#9000a0"},{"offset":1,"color":"#800068"}]}},"encoding":{"order":{"value":null}}},
{"transform":[{"filter":"datum.k=='p1'"}],"mark":{"type":"line","interpolate":"linear-closed","stroke":null,"fill":{"gradient":"linear","x1":0,"y1":0,"x2":0,"y2":1,"stops":[{"offset":0,"color":"#930000"},{"offset":0.102,"color":"#ff0000"},{"offset":0.305,"color":"#ff0000"},{"offset":0.31,"color":"#ff2000"},{"offset":0.393,"color":"#ff9000"},{"offset":0.434,"color":"#ffd000"},{"offset":0.476,"color":"#ffff00"},{"offset":0.538,"color":"#80ff00"},{"offset":0.56,"color":"#00ff00"},{"offset":0.643,"color":"#00ff00"},{"offset":0.664,"color":"#00ff80"},{"offset":0.684,"color":"#00ffe0"},{"offset":0.726,"color":"#00c0ff"},{"offset":0.767,"color":"#0080ff"},{"offset":0.809,"color":"#0000ff"},{"offset":0.85,"color":"#6a00ff"},{"offset":0.871,"color":"#8a00f0"},{"offset":0.893,"color":"#a000b0"},{"offset":0.912,"color":"#9a0099"},{"offset":0.934,"color":"#8a0080"},{"offset":0.955,"color":"#800068"},{"offset":1,"color":"#800068"}]}},"encoding":{"order":{"value":null}}},
{"transform":[{"filter":"datum.k=='x'"}],"mark":{"type":"line","stroke":"black","strokeWidth":3},"encoding":{"detail":{"field":"g"},"order":{"value":null}}},
{"transform":[{"filter":"datum.k=='le'"}],"mark":{"type":"text","font":"Liberation Sans","fontWeight":"bold","fontSize":38,"angle":332,"dx":-52,"dy":18,"align":"center","baseline":"middle"},"encoding":{"text":{"field":"t"}}},
{"transform":[{"filter":"datum.k=='lx'"}],"mark":{"type":"text","font":"Liberation Sans","fontWeight":"bold","fontSize":38,"angle":22,"dx":72,"dy":11,"align":"center","baseline":"middle"},"encoding":{"text":{"field":"t"}}},
{"transform":[{"filter":"datum.k=='lz'"}],"mark":{"type":"text","font":"Liberation Sans","fontWeight":"bold","fontSize":42,"angle":354,"dx":-24,"dy":8,"align":"right","baseline":"middle"},"encoding":{"text":{"field":"t"}}},
{"transform":[{"filter":"datum.k=='tz'"}],"mark":{"type":"text","font":"Liberation Sans","fontWeight":"bold","fontSize":53,"angle":88,"align":"center","baseline":"middle"},"encoding":{"text":{"field":"t"}}},
{"transform":[{"filter":"datum.k=='te'"}],"mark":{"type":"text","font":"Liberation Sans","fontStyle":"italic","fontSize":44,"angle":22,"align":"center","baseline":"middle"},"encoding":{"text":{"field":"t"}}},
{"transform":[{"filter":"datum.k=='tx'"}],"mark":{"type":"text","font":"Liberation Sans","fontSize":44,"angle":332,"align":"center","baseline":"middle"},"encoding":{"text":{"field":"t"}}},
{"transform":[{"filter":"datum.k=='cap'"}],"mark":{"type":"text","font":"Liberation Serif","fontWeight":"bold","fontSize":72,"align":"center","baseline":"middle"},"encoding":{"text":{"field":"t"}}},
{"transform":[{"filter":"datum.k=='lp'"}],"mark":{"type":"text","font":"Liberation Sans","fontWeight":"bold","fontSize":45,"align":"center","baseline":"middle"},"encoding":{"text":{"field":"t"}}},
{"transform":[{"filter":"datum.k=='la'"}],"mark":{"type":"line","stroke":"black","strokeWidth":3},"encoding":{"detail":{"field":"g"},"order":{"value":null}}},
{"transform":[{"filter":"datum.k=='lh'&&datum.g==1"}],"mark":{"type":"point","filled":true,"color":"black","opacity":1,"size":600,"angle":59,"shape":"M0,0L-0.4,1.9L0,1.45L0.4,1.9Z"}},
{"transform":[{"filter":"datum.k=='lh'&&datum.g==2"}],"mark":{"type":"point","filled":true,"color":"black","opacity":1,"size":600,"angle":256,"shape":"M0,0L-0.4,1.9L0,1.45L0.4,1.9Z"}},
{"transform":[{"filter":"datum.k=='lh'&&datum.g==3"}],"mark":{"type":"point","filled":true,"color":"black","opacity":1,"size":600,"angle":258,"shape":"M0,0L-0.4,1.9L0,1.45L0.4,1.9Z"}}
]},
{"vconcat":[{"width":36,"height":102,"data":{"values":[]},"mark":"point"},
{"width":36,"height":713,"view":{"stroke":"black","strokeWidth":3},"data":{"name":"bars"},"mark":"rect","encoding":{"y":{"field":"lo","type":"quantitative","scale":{"domain":[0,900],"nice":false},"axis":{"orient":"right","title":null,"values":[0,90,180,270,360,450,540,630,720,810,900],"grid":false,"domain":false,"tickColor":"black","tickWidth":3,"tickSize":12,"labelFont":"Liberation Sans","labelFontWeight":"bold","labelFontSize":36,"labelColor":"black","labelPadding":6,"labelOverlap":false,"labelFlush":false}},"y2":{"field":"hi"},"color":{"field":"lo","type":"quantitative","legend":null,"scale":{"domain":[0,19,38,56,75,94,131,169,206,244,262,281,356,375,431,469,506,581,585,768,900],"range":["#800068","#8a0080","#9a0099","#a000b0","#8a00f0","#6a00ff","#0000ff","#0080ff","#00c0ff","#00ffe0","#00ff80","#00ff00","#00ff00","#80ff00","#ffff00","#ffd000","#ff9000","#ff2000","#ff0000","#ff0000","#600000"]}}}}],"spacing":0,"bounds":"flush"},
{"width":474,"height":10,"data":{"values":[]},"mark":"point"},
{"vconcat":[{"width":100,"height":61,"data":{"values":[]},"mark":"point"},
{"hconcat":[
{"width":1109,"height":891,"view":{"fill":"#800068","stroke":"black","strokeWidth":3},"data":{"name":"all"},
"encoding":{"x":{"field":"em","type":"quantitative","scale":{"domain":[200,900],"nice":false,"zero":false},"axis":{"title":"λₑₘ(nm)","titleFont":"Liberation Sans","titleFontWeight":"bold","titleFontSize":54,"titleColor":"black","titlePadding":63,"values":[200,250,300,350,400,450,500,550,600,650,700,750,800,850,900],"labelExpr":"datum.value%100==0?datum.label:''","tickSize":{"condition":{"test":"datum.value%100==0","value":14},"value":8},"grid":false,"domainColor":"black","domainWidth":3,"tickColor":"black","tickWidth":3,"labelFont":"Liberation Sans","labelFontWeight":"bold","labelFontSize":46,"labelColor":"black","labelPadding":18,"labelOverlap":false,"labelFlush":false}},
"y":{"field":"ex","type":"quantitative","scale":{"domain":[200,900],"nice":false,"zero":false},"axis":{"title":"λₑₓ(nm)","titleFont":"Liberation Sans","titleFontWeight":"bold","titleFontSize":54,"titleColor":"black","titlePadding":50,"values":[200,250,300,350,400,450,500,550,600,650,700,750,800,850,900],"labelExpr":"datum.value%100==0?datum.label:''","tickSize":{"condition":{"test":"datum.value%100==0","value":14},"value":8},"grid":false,"domainColor":"black","domainWidth":3,"tickColor":"black","tickWidth":3,"labelFont":"Liberation Sans","labelFontWeight":"bold","labelFontSize":46,"labelColor":"black","labelPadding":14,"labelOverlap":false,"labelFlush":false}}},
"layer":[
{"transform":[{"filter":"datum.k=='c'&&indexof([1,3,5,8,9,10,13,14,16,18,19,21,23,25,27,29,31,36],datum.p)>=0"}],"mark":{"type":"line","interpolate":"cardinal-closed","stroke":null},"encoding":{"detail":{"field":"p"},"order":{"value":null},"fill":{"field":"v","type":"quantitative","legend":null,"scale":{"domain":[0,19,38,56,75,94,131,169,206,244,262,281,356,375,431,469,506,581,585,768,900],"range":["#800068","#8a0080","#9a0099","#a000b0","#8a00f0","#6a00ff","#0000ff","#0080ff","#00c0ff","#00ffe0","#00ff80","#00ff00","#00ff00","#80ff00","#ffff00","#ffd000","#ff9000","#ff2000","#ff0000","#ff0000","#600000"]}}}},
{"transform":[{"filter":"datum.k=='c'&&datum.v>=169&&datum.v<=800&&indexof([1,3,5,8,9,10,13,14,16,18,19,21,23,25,27,29,31,36],datum.p)>=0"}],"mark":{"type":"line","interpolate":"cardinal-closed","stroke":"#303030","strokeWidth":1.2},"encoding":{"detail":{"field":"p"},"order":{"value":null}}},
{"transform":[{"filter":"datum.k=='c'&&indexof([1,3,5,8,9,10,13,14,16,18,19,21,23,25,27,29,31,36],datum.p)<0"}],"mark":{"type":"line","interpolate":"linear-closed","stroke":null},"encoding":{"detail":{"field":"p"},"order":{"value":null},"fill":{"field":"v","type":"quantitative","legend":null,"scale":{"domain":[0,19,38,56,75,94,131,169,206,244,262,281,356,375,431,469,506,581,585,768,900],"range":["#800068","#8a0080","#9a0099","#a000b0","#8a00f0","#6a00ff","#0000ff","#0080ff","#00c0ff","#00ffe0","#00ff80","#00ff00","#00ff00","#80ff00","#ffff00","#ffd000","#ff9000","#ff2000","#ff0000","#ff0000","#600000"]}}}},
{"transform":[{"filter":"datum.k=='c'&&datum.v>=169&&datum.v<=450&&indexof([1,3,5,8,9,10,13,14,16,18,19,21,23,25,27,29,31,36],datum.p)<0"}],"mark":{"type":"line","interpolate":"linear-closed","stroke":"#303030","strokeWidth":1.2},"encoding":{"detail":{"field":"p"},"order":{"value":null}}},
{"transform":[{"filter":"datum.k=='ra'"}],"mark":{"type":"line","stroke":"white","strokeWidth":3},"encoding":{"detail":{"field":"g"},"order":{"value":null}}},
{"transform":[{"filter":"datum.k=='rh'&&datum.g==1"}],"mark":{"type":"point","filled":true,"color":"white","opacity":1,"size":1000,"angle":311,"shape":"M0,0L-0.35,1.9L0,1.45L0.35,1.9Z"}},
{"transform":[{"filter":"datum.k=='rh'&&datum.g==2"}],"mark":{"type":"point","filled":true,"color":"white","opacity":1,"size":1000,"angle":180,"shape":"M0,0L-0.35,1.9L0,1.45L0.35,1.9Z"}},
{"transform":[{"filter":"datum.k=='rh'&&datum.g==3"}],"mark":{"type":"point","filled":true,"color":"white","opacity":1,"size":1000,"angle":225,"shape":"M0,0L-0.35,1.9L0,1.45L0.35,1.9Z"}},
{"transform":[{"filter":"datum.k=='rp'"}],"mark":{"type":"text","font":"Liberation Sans","fontWeight":"bold","fontSize":44,"color":"white","align":"center","baseline":"middle"},"encoding":{"text":{"field":"t"}}},
{"transform":[{"filter":"datum.k=='capb'"}],"mark":{"type":"text","font":"Liberation Serif","fontWeight":"bold","fontSize":72,"color":"black","align":"center","baseline":"middle"},"encoding":{"text":{"field":"t"}}}
]},
{"width":23,"height":10,"data":{"values":[]},"mark":"point"},
{"width":34,"height":891,"view":{"stroke":"black","strokeWidth":3},"data":{"name":"bars"},"mark":"rect","encoding":{"y":{"field":"lo","type":"quantitative","scale":{"domain":[0,900],"nice":false},"axis":{"orient":"right","title":null,"values":[0,100,200,300,400,500,600,700,800,900],"grid":false,"domain":false,"tickColor":"black","tickWidth":3,"tickSize":16,"labelFont":"Liberation Sans","labelFontWeight":"bold","labelFontSize":36,"labelColor":"black","labelPadding":6,"labelOverlap":false,"labelFlush":false}},"y2":{"field":"hi"},"color":{"field":"lo","type":"quantitative","legend":null,"scale":{"domain":[0,19,38,56,75,94,131,169,206,244,262,281,356,375,431,469,506,581,585,768,900],"range":["#800068","#8a0080","#9a0099","#a000b0","#8a00f0","#6a00ff","#0000ff","#0080ff","#00c0ff","#00ffe0","#00ff80","#00ff00","#00ff00","#80ff00","#ffff00","#ffd000","#ff9000","#ff2000","#ff0000","#ff0000","#600000"]}}}}
],"spacing":0,"bounds":"flush"}],"spacing":0,"bounds":"flush"}
]}
